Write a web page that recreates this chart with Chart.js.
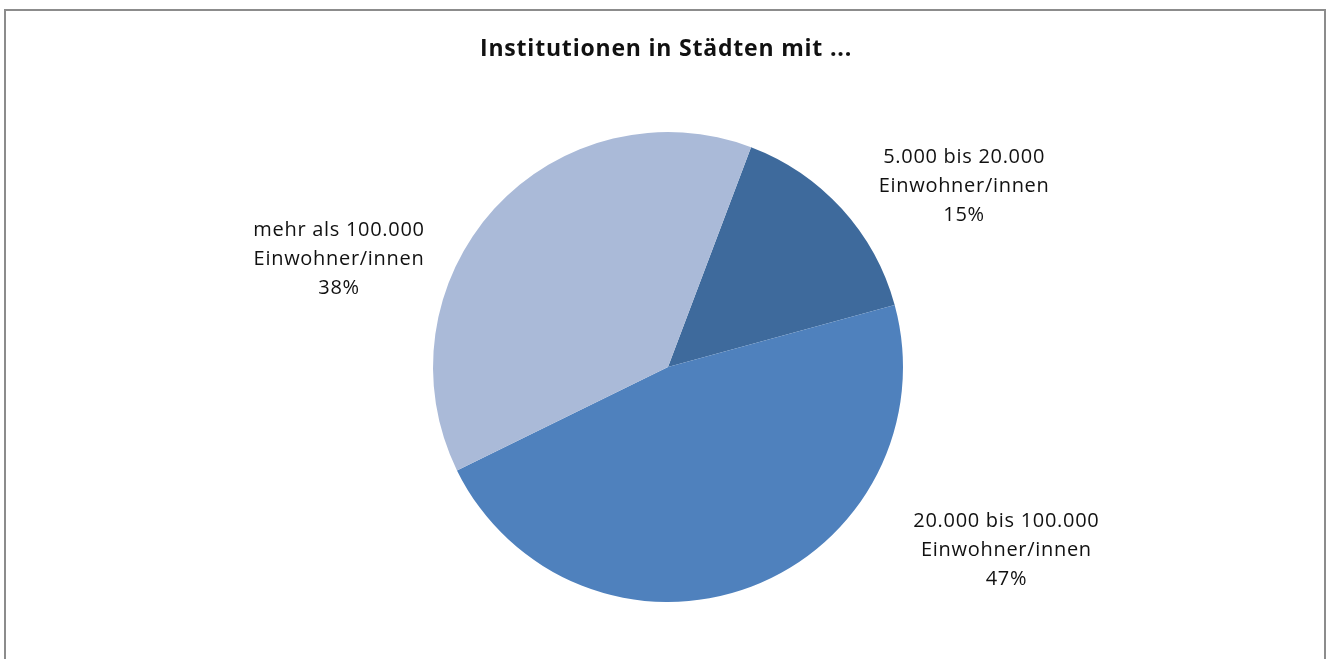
<!DOCTYPE html>
<html>
<head>
<meta charset="utf-8">
<script src="https://cdn.jsdelivr.net/npm/chart.js@4.4.0/dist/chart.umd.min.js"></script>
<style>
    body { margin: 0; background: #fff; overflow: hidden; }
    #frame { position: absolute; left: 4px; top: 9px; width: 1322px; height: 700px; border: 2px solid #8c8c8c; box-sizing: border-box; }
    #wrap { position: absolute; left: 0; top: 0; width: 1330px; height: 659px; }
</style>
</head>
<body>
<div id="frame"></div>
<div id="wrap"><canvas id="myChart"></canvas></div>
<script>
var title = 'Institutionen in Städten mit ...';
var categories = ['5.000 bis 20.000', '20.000 bis 100.000', 'mehr als 100.000'];
var unitLine = 'Einwohner/innen';
var shares = [15, 47, 38];
var colors = ['#3e6a9c', '#4f81bd', '#aabad8'];

// label offsets from pie centre, in units of radius
var labelOffsets = [[1.26, -0.77], [1.44, 0.78], [-1.40, -0.46]];

var labelPlugin = {
    id: 'sliceLabels',
    afterDraw: function (chart) {
        var ctx = chart.ctx;
        var arcs = chart.getDatasetMeta(0).data;
        ctx.save();
        ctx.fillStyle = '#111';
        ctx.textAlign = 'center';
        ctx.textBaseline = 'middle';
        ctx.font = 'bold 23px "Open Sans"';
        ctx.letterSpacing = '0.8px';
        ctx.fillText(title, 666, 49);
        ctx.font = '20px "Open Sans"';
        ctx.letterSpacing = '0.7px';
        arcs.forEach(function (arc, i) {
            var x = arc.x + labelOffsets[i][0] * arc.outerRadius;
            var y = arc.y + labelOffsets[i][1] * arc.outerRadius;
            ctx.fillText(categories[i], x, y - 29);
            ctx.fillText(unitLine, x, y);
            ctx.fillText(shares[i] + '%', x, y + 29);
        });
        ctx.restore();
    }
};

var ctx = document.getElementById('myChart').getContext('2d');
var chart = new Chart(ctx, {
    type: 'pie',
    data: {
        labels: categories,
        datasets: [{
            data: shares,
            backgroundColor: colors,
            borderWidth: 0
        }]
    },
    options: {
        responsive: true,
        maintainAspectRatio: false,
        animation: false,
        rotation: 20.7,
        layout: {
            padding: { left: 432, right: 426, top: 132, bottom: 57 }
        },
        plugins: {
            legend: { display: false },
            tooltip: { enabled: false }
        }
    },
    plugins: [labelPlugin]
});
</script>
</body>
</html>
